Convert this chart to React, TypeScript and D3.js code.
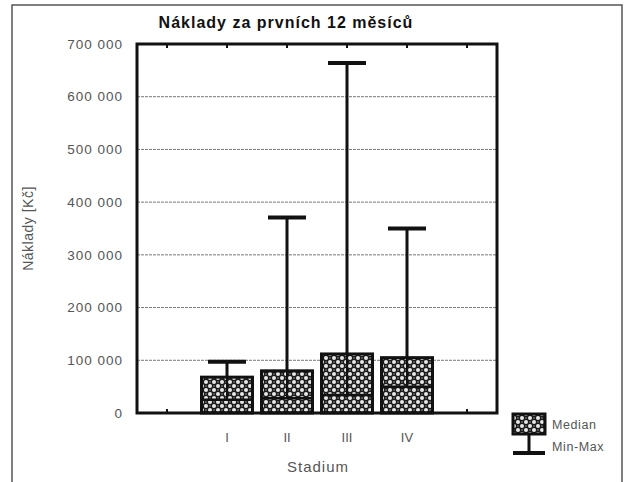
import React from "react";
import * as d3 from "d3";

const categories = ["I", "II", "III", "IV"];
const medians = [68000, 80000, 112000, 105000];
const mins = [25000, 28000, 34000, 50000];
const maxs = [97000, 371000, 664000, 350000];
const yTicks = [0, 100000, 200000, 300000, 400000, 500000, 600000, 700000];
const slotTicks = [0.5, 1.5, 2.5, 3.5, 4.5, 5.5];

const W = 629, H = 482;
const M = { left: 137, top: 44, right: 497, bottom: 413 };

export default function App() {
  const x = d3.scaleLinear().domain([0, 6]).range([M.left, M.right]);
  const y = d3.scaleLinear().domain([0, 700000]).range([M.bottom, M.top]);
  const fmt = (v: number) => d3.format(",")(v).replace(/,/g, " ");
  const boxW = 51;
  const capW = 38;
  const font = "Liberation Sans, Arial, sans-serif";
  return (
    <svg width={W} height={H} style={{ position: "absolute", left: 0, top: 0 }} fontFamily={font}>
      <defs>
        <pattern id="chk" width="8" height="8" patternUnits="userSpaceOnUse">
          <rect width="8" height="8" fill="#1a1a1a" />
          <circle cx="2" cy="2" r="2" fill="#e8e8e8" />
          <circle cx="6" cy="6" r="2" fill="#e8e8e8" />
          <circle cx="6" cy="2" r="1" fill="#666" />
          <circle cx="2" cy="6" r="1" fill="#666" />
        </pattern>
      </defs>
      <rect x={0} y={0} width={W} height={H} fill="#fff" />
      <rect x={12} y={5} width={610} height={490} fill="none" stroke="#555" strokeWidth={1.5} />
      <text x={286} y={28} textAnchor="middle" fontSize={16} fontWeight="bold" letterSpacing={1} fill="#111">
        Náklady za prvních 12 měsíců
      </text>
      {yTicks.filter((t) => t > 0 && t < 700000).map((t) => (
        <line key={t} x1={M.left} x2={M.right} y1={y(t)} y2={y(t)} stroke="#777" strokeWidth={1} strokeDasharray="3,1" />
      ))}
      {yTicks.map((t) => (
        <text key={t} x={123} y={y(t)} dy="0.35em" textAnchor="end" fontSize={13.5} letterSpacing={1} fill="#555">
          {fmt(t)}
        </text>
      ))}
      {slotTicks.map((t) => (
        <g key={t}>
          <line x1={x(t)} x2={x(t)} y1={M.top} y2={M.top + 4} stroke="#111" strokeWidth={2} />
          <line x1={x(t)} x2={x(t)} y1={M.bottom} y2={M.bottom - 4} stroke="#111" strokeWidth={2} />
        </g>
      ))}
      {categories.map((c, i) => {
        const cx = x(i + 1.5);
        return (
          <g key={c}>
            <line x1={cx} x2={cx} y1={y(maxs[i])} y2={y(medians[i])} stroke="#111" strokeWidth={3} />
            <line x1={cx - capW / 2} x2={cx + capW / 2} y1={y(maxs[i])} y2={y(maxs[i])} stroke="#111" strokeWidth={4} />
            <rect x={cx - boxW / 2} y={y(medians[i])} width={boxW} height={y(0) - y(medians[i])} fill="url(#chk)" stroke="#111" strokeWidth={3} />
            <line x1={cx - boxW / 2} x2={cx + boxW / 2} y1={y(mins[i])} y2={y(mins[i])} stroke="#111" strokeWidth={2.5} />
            <line x1={cx} x2={cx} y1={y(medians[i])} y2={y(mins[i])} stroke="#111" strokeWidth={2} />
            <text x={cx} y={442} textAnchor="middle" fontSize={13} fill="#555">{c}</text>
          </g>
        );
      })}
      <rect x={M.left} y={M.top} width={M.right - M.left} height={M.bottom - M.top} fill="none" stroke="#111" strokeWidth={3} />
      <text x={318} y={472} textAnchor="middle" fontSize={15} letterSpacing={1} fill="#555">Stadium</text>
      <text transform={`translate(33,${(M.top + M.bottom) / 2}) rotate(-90)`} textAnchor="middle" fontSize={14} letterSpacing={0.5} fill="#555">
        Náklady [Kč]
      </text>
      <g>
        <line x1={529} x2={529} y1={434} y2={453} stroke="#111" strokeWidth={3} />
        <line x1={513} x2={545} y1={453} y2={453} stroke="#111" strokeWidth={4} />
        <rect x={513} y={414} width={32} height={20} fill="url(#chk)" stroke="#111" strokeWidth={3} />
        <text x={552} y={425} dy="0.35em" fontSize={12.5} letterSpacing={0.6} fill="#555">Median</text>
        <text x={552} y={447} dy="0.35em" fontSize={12.5} letterSpacing={0.6} fill="#555">Min-Max</text>
      </g>
    </svg>
  );
}
